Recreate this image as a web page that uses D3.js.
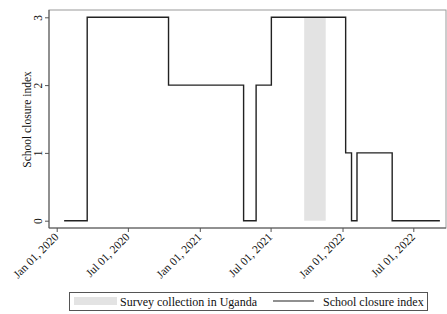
<!DOCTYPE html>
<html>
<head>
<meta charset="utf-8">
<script src="https://cdn.jsdelivr.net/npm/d3@7"></script>
<style>
  body { margin: 0; background: #fff; }
  text { font-family: "Liberation Serif", "Times New Roman", serif; fill: #111; }
</style>
</head>
<body>
<div id="chart"></div>
<script>
// valeurs
var stepDates = ["2020-01-20", "2020-03-19", "2020-10-13", "2021-04-23", "2021-05-25",
                 "2021-07-03", "2022-01-09", "2022-01-24", "2022-02-07", "2022-05-08", "2022-09-07"];
var stepValues = [0, 3, 2, 0, 2, 3, 1, 0, 1, 0, 0];
var surveyPeriod = ["2021-09-25", "2021-11-19"];
var tickDates = ["2020-01-01", "2020-07-01", "2021-01-01", "2021-07-01", "2022-01-01", "2022-07-01"];
var yTicks = [0, 1, 2, 3];

var width = 447, height = 314;
var frame = {left: 49, right: 446, top: 10, bottom: 228};

var parse = d3.timeParse("%Y-%m-%d");
var fmt = d3.timeFormat("%b %d, %Y");

var svg = d3.select("#chart").append("svg")
    .attr("width", width)
    .attr("height", height);

var x = d3.scaleTime()
    .domain([parse("2020-01-01"), parse("2022-07-01")])
    .range([56.7, 413.3]);

var y = d3.scaleLinear()
    .domain([0, 3])
    .range([220.7, 17.3]);

// cadre
svg.append("rect")
    .attr("x", frame.left).attr("y", frame.top)
    .attr("width", frame.right - frame.left).attr("height", frame.bottom - frame.top)
    .attr("fill", "none").attr("stroke", "#9a9a9a").attr("stroke-width", 1);

// période d'enquête
svg.append("rect")
    .attr("x", x(parse(surveyPeriod[0])))
    .attr("y", y(3))
    .attr("width", x(parse(surveyPeriod[1])) - x(parse(surveyPeriod[0])))
    .attr("height", y(0) - y(3))
    .attr("fill", "#e3e3e3");

// axes
var xAxis = svg.append("g")
    .attr("transform", "translate(0," + frame.bottom + ")")
    .call(d3.axisBottom(x).tickValues(tickDates.map(parse)).tickSize(4).tickFormat(fmt));
xAxis.select(".domain").remove();
xAxis.selectAll(".tick line").attr("stroke", "#555");
xAxis.selectAll(".tick text")
    .attr("font-size", 11.5)
    .attr("text-anchor", "end")
    .attr("dx", "-0.1em").attr("dy", "0.35em")
    .attr("transform", "translate(0,6) rotate(-45)")
    .attr("y", 0).attr("x", 0);

var yAxis = svg.append("g")
    .attr("transform", "translate(" + frame.left + ",0)")
    .call(d3.axisLeft(y).tickValues(yTicks).tickSize(4).tickFormat(d3.format("d")));
yAxis.select(".domain").remove();
yAxis.selectAll(".tick line").attr("stroke", "#555");
yAxis.selectAll(".tick text")
    .attr("font-size", 11.5)
    .attr("text-anchor", "middle")
    .attr("x", 0).attr("dy", 0)
    .attr("transform", "translate(-7,0) rotate(-90)");

svg.append("line")
    .attr("x1", frame.left).attr("x2", frame.left)
    .attr("y1", frame.top).attr("y2", frame.bottom)
    .attr("stroke", "#555");
svg.append("line")
    .attr("x1", frame.left).attr("x2", frame.right)
    .attr("y1", frame.bottom).attr("y2", frame.bottom)
    .attr("stroke", "#555");

svg.append("text")
    .attr("transform", "translate(31,119.5) rotate(-90)")
    .attr("text-anchor", "middle")
    .attr("font-size", 11.5)
    .text("School closure index");

// ligne en escalier
var data = stepDates.map(function(d, i) { return {date: parse(d), value: stepValues[i]}; });
var line = d3.line()
    .x(function(d) { return x(d.date); })
    .y(function(d) { return y(d.value); })
    .curve(d3.curveStepAfter);

svg.append("path")
    .datum(data)
    .attr("d", line)
    .attr("fill", "none")
    .attr("stroke", "#222")
    .attr("stroke-width", 1.4);

// légende
var legend = svg.append("g");
legend.append("rect")
    .attr("x", 69.5).attr("y", 292.5).attr("width", 358).attr("height", 18)
    .attr("fill", "#fff").attr("stroke", "#555");
legend.append("rect")
    .attr("x", 74).attr("y", 297).attr("width", 43).attr("height", 8)
    .attr("fill", "#e3e3e3");
legend.append("text")
    .attr("x", 120).attr("y", 305.5)
    .attr("font-size", 12)
    .text("Survey collection in Uganda");
legend.append("line")
    .attr("x1", 273).attr("x2", 314).attr("y1", 301).attr("y2", 301)
    .attr("stroke", "#222").attr("stroke-width", 1.2);
legend.append("text")
    .attr("x", 323).attr("y", 305.5)
    .attr("font-size", 12)
    .text("School closure index");
</script>
</body>
</html>
